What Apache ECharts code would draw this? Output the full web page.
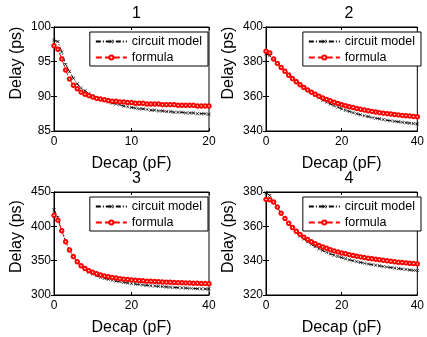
<!DOCTYPE html>
<html>
<head>
<meta charset="utf-8">
<script src="https://cdn.jsdelivr.net/npm/echarts@6/dist/echarts.min.js"></script>
<style>
  html, body { margin: 0; padding: 0; background: #fff; }
  #chart { width: 427px; height: 337px; }
</style>
</head>
<body>
<div id="chart"></div>
<script>
// decap sweep (pF)
const decapA = [0,0.5,1,1.5,2,2.5,3,3.5,4,4.5,5,5.5,6,6.5,7,7.5,8,8.5,9,9.5,10,
  10.5,11,11.5,12,12.5,13,13.5,14,14.5,15,15.5,16,16.5,17,17.5,18,18.5,19,19.5,20]
const decapB = [0,1,2,3,4,5,6,7,8,9,10,11,12,13,14,15,16,17,18,19,20,
  21,22,23,24,25,26,27,28,29,30,31,32,33,34,35,36,37,38,39,40]

// panel 1
const circuit1 = [98.1,97.9,96.4,94.6,93.6,92.6,91.8,91.2,90.8,90.4,90.1,89.8,89.6,89.4,89.2,89.0,88.9,88.8,88.6,88.5,88.4,
  88.3,88.2,88.2,88.1,88.0,88.0,87.9,87.9,87.8,87.8,87.7,87.7,87.7,87.6,87.6,87.6,87.5,87.5,87.5,87.4]
const formula1 = [97.3,96.8,95.4,93.8,92.5,91.6,91.1,90.6,90.3,90.1,89.9,89.7,89.6,89.5,89.4,89.3,89.3,89.2,89.2,89.1,89.1,
  89.0,89.0,89.0,88.9,88.9,88.9,88.9,88.8,88.8,88.8,88.8,88.7,88.7,88.7,88.7,88.7,88.6,88.6,88.6,88.6]
// panel 2
const circuit2 = [384.5,383.5,381.8,379.5,376.8,375.0,373.0,370.8,368.8,367.0,365.2,363.6,362.0,360.5,359.2,357.8,356.7,355.6,354.6,353.7,352.8,
  352.0,351.3,350.6,350.0,349.4,348.8,348.3,347.8,347.4,347.0,346.6,346.2,345.9,345.6,345.3,345.0,344.8,344.5,344.3,344.1]
const formula2 = [386.0,385.0,381.5,379.0,376.6,374.4,372.2,370.2,368.4,366.7,365.1,363.7,362.4,361.2,360.1,359.1,358.2,357.4,356.6,355.9,355.2,
  354.6,354.0,353.5,353.0,352.5,352.1,351.7,351.3,351.0,350.6,350.3,350.0,349.8,349.5,349.3,349.0,348.8,348.6,348.4,348.2]
// panel 3
const circuit3 = [424,413,395,378,365,355,347.5,341.5,337,333.5,330.5,328,326,324.3,322.8,321.5,320.3,319.3,318.3,317.5,316.7,
  316,315.3,314.7,314.1,313.6,313.1,312.6,312.2,311.8,311.4,311,310.7,310.4,310.1,309.8,309.5,309.2,309,308.8,308.6]
const formula3 = [416,409,393.5,377.5,365.5,356,348.5,342.5,338.5,335.3,333,331,329.3,327.8,326.6,325.5,324.6,323.8,323.1,322.5,322,
  321.5,321,320.6,320.2,319.9,319.6,319.3,319,318.7,318.5,318.2,318,317.8,317.6,317.4,317.2,317,316.8,316.6,316.4]
// panel 4
const circuit4 = [379.5,378,374.5,371,367.5,364.5,361.5,358.8,356.4,354.4,352.6,351,349.5,348.2,347,345.9,344.9,344,343.2,342.5,341.8,
  341.1,340.5,340,339.5,339,338.5,338.1,337.7,337.3,337,336.6,336.3,336,335.7,335.4,335.1,334.9,334.6,334.4,334.2]
const formula4 = [375.7,375.5,374.2,371.2,367.6,364.6,361.8,359.3,357.1,355.3,353.7,352.3,351,349.9,348.9,348,347.2,346.4,345.7,345.1,344.5,
  344,343.5,343,342.6,342.2,341.8,341.4,341.1,340.8,340.5,340.2,339.9,339.6,339.4,339.1,338.9,338.7,338.5,338.3,338.1]

const titles = ['1', '2', '3', '4']
const xLimits = [[0, 20, 10], [0, 40, 20], [0, 40, 20], [0, 40, 20]]
const yLimits = [[85, 100, 5], [340, 400, 20], [300, 450, 50], [320, 380, 20]]
const seriesNames = ['circuit model', 'formula']

const panels = [
  {x: decapA, a: circuit1, b: formula1},
  {x: decapB, a: circuit2, b: formula2},
  {x: decapB, a: circuit3, b: formula3},
  {x: decapB, a: circuit4, b: formula4},
]

const FONT = 'Liberation Sans, Arial, Helvetica, sans-serif'
const grids = [
  {left: 54, top: 27, width: 155, height: 104},
  {left: 266, top: 27, width: 156, height: 104},
  {left: 54, top: 192, width: 155, height: 104},
  {left: 266, top: 192, width: 156, height: 104},
]
const CROSS = 'path://M0,1L1,0L5,4L9,0L10,1L6,5L10,9L9,10L5,6L1,10L0,9L4,5Z'

const chart = echarts.init(document.getElementById('chart'), null, {renderer: 'canvas'})

const option = {
  backgroundColor: '#fff',
  animation: false,
  textStyle: {fontFamily: FONT},
  title: [], grid: [], xAxis: [], yAxis: [], series: [], legend: []
}

grids.forEach((g, i) => {
  option.grid.push({left: g.left, top: g.top, width: g.width, height: g.height,
    show: true, borderColor: '#000', borderWidth: 1, backgroundColor: '#fff'})
  option.title.push({text: titles[i], left: g.left + g.width / 2, top: g.top - 26,
    textAlign: 'center',
    textStyle: {fontFamily: FONT, fontSize: 16, fontWeight: 'normal', color: '#000'}})
  const tick = {show: true, inside: true, length: 3, lineStyle: {color: '#000', width: 1}}
  const axLine = {show: true, lineStyle: {color: '#000', width: 1}}
  const xl = xLimits[i], yl = yLimits[i]
  option.xAxis.push({gridIndex: i, type: 'value', min: xl[0], max: xl[1], interval: xl[2],
    axisLine: axLine, axisTick: tick, splitLine: {show: false},
    axisLabel: {color: '#000', fontSize: 12, fontFamily: FONT, margin: 5},
    name: 'Decap (pF)', nameLocation: 'middle', nameGap: 25,
    nameTextStyle: {color: '#000', fontSize: 16, fontFamily: FONT}})
  option.xAxis.push({gridIndex: i, type: 'value', position: 'top', min: xl[0], max: xl[1], interval: xl[2],
    axisLine: axLine, axisTick: tick, splitLine: {show: false}, axisLabel: {show: false}})
  option.yAxis.push({gridIndex: i, type: 'value', min: yl[0], max: yl[1], interval: yl[2],
    axisLine: axLine, axisTick: tick, splitLine: {show: false},
    axisLabel: {color: '#000', fontSize: 12, fontFamily: FONT, margin: 3},
    name: 'Delay (ps)', nameLocation: 'middle', nameGap: 29,
    nameTextStyle: {color: '#000', fontSize: 16, fontFamily: FONT,
      padding: i < 2 ? [0, 0, 0, 32] : [0, 0, 0, 14]}})
  option.yAxis.push({gridIndex: i, type: 'value', position: 'right', min: yl[0], max: yl[1], interval: yl[2],
    axisLine: axLine, axisTick: tick, splitLine: {show: false}, axisLabel: {show: false}})

  const p = panels[i]
  option.series.push({
    name: seriesNames[0], type: 'line', xAxisIndex: 2 * i, yAxisIndex: 2 * i,
    data: p.x.map((v, k) => [v, p.a[k]]),
    symbol: CROSS, symbolSize: 3.5, showSymbol: true,
    lineStyle: {color: '#000', width: 1, type: [5, 2, 1, 2]},
    itemStyle: {color: '#000'}
  })
  option.series.push({
    name: seriesNames[1], type: 'line', xAxisIndex: 2 * i, yAxisIndex: 2 * i,
    data: p.x.map((v, k) => [v, p.b[k]]),
    symbol: 'emptyCircle', symbolSize: 3.5, showSymbol: true,
    lineStyle: {color: '#ff0000', width: 1, type: [6, 3]},
    itemStyle: {color: '#ff0000', borderWidth: 1}
  })
})

// a boxed legend in every panel
grids.forEach((g, i) => {
  option.legend.push({
    data: seriesNames,
    orient: 'vertical',
    right: 427 - (g.left + g.width) + 1,
    top: g.top + 5,
    padding: [3, 6, 2, 5],
    itemGap: 3,
    itemWidth: 31,
    itemHeight: 5,
    itemStyle: {borderWidth: 1},
    borderColor: '#000',
    borderWidth: 1,
    backgroundColor: '#fff',
    selectedMode: false,
    textStyle: {color: '#000', fontSize: 12.5, fontFamily: FONT}
  })
})

chart.setOption(option)
</script>
</body>
</html>
